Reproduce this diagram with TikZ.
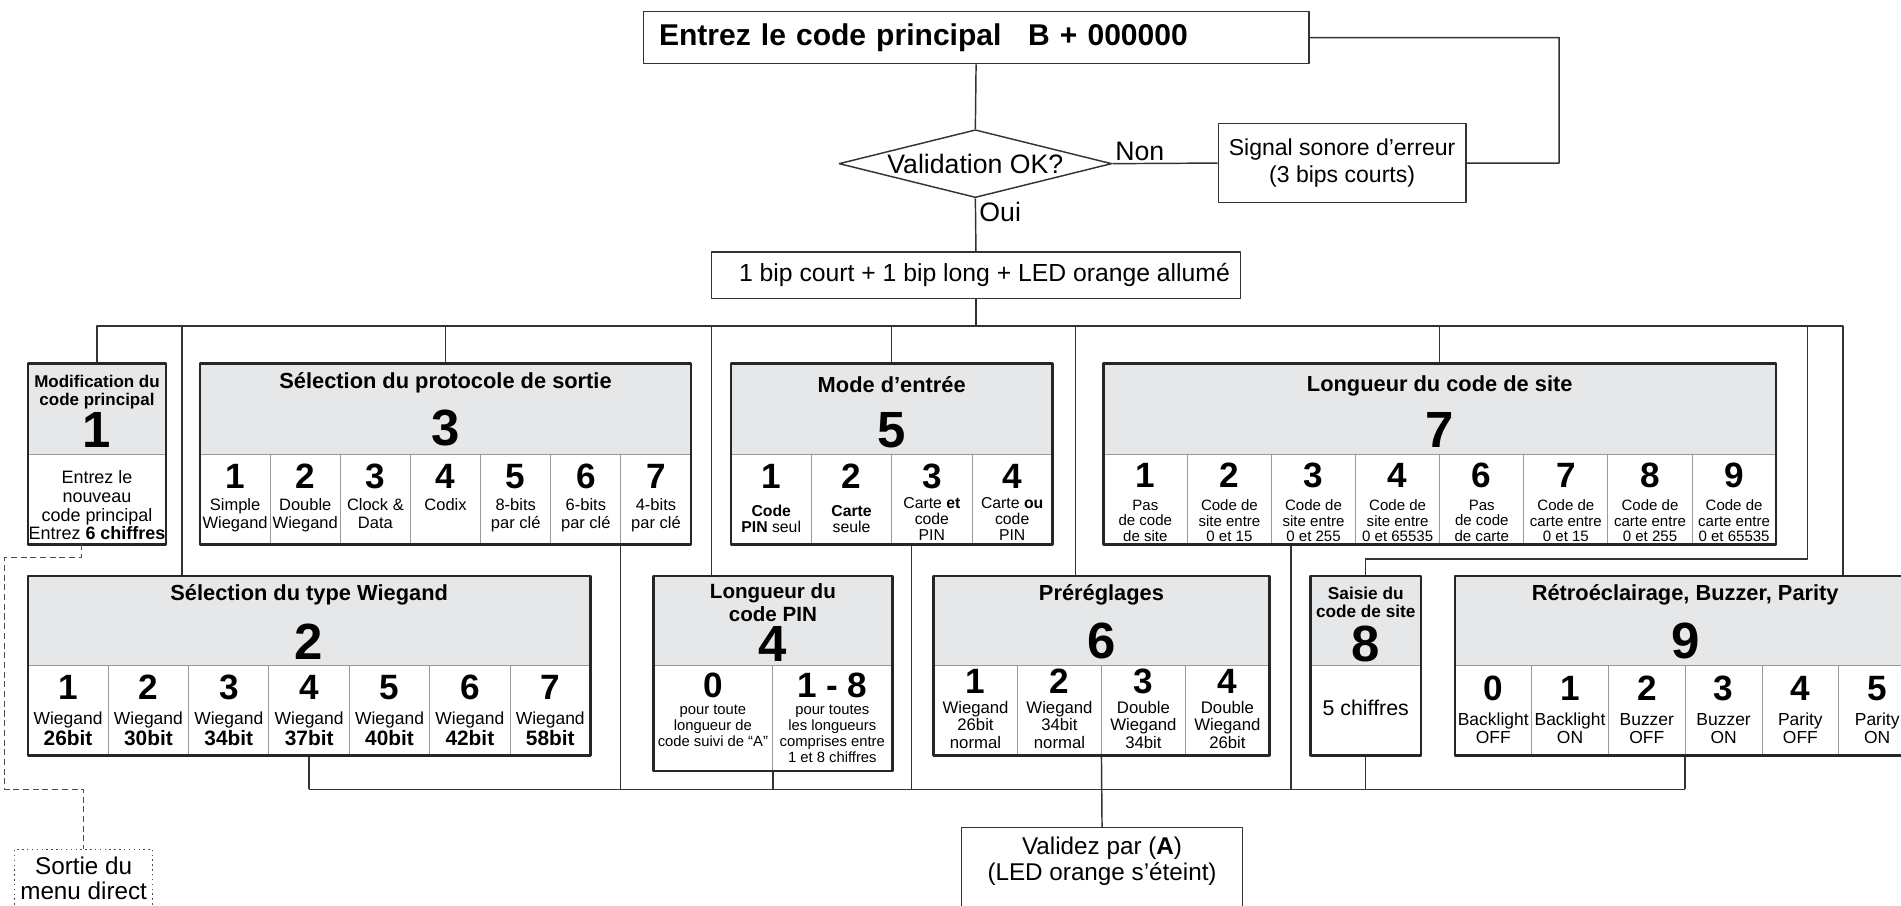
\documentclass[tikz,border=0pt]{standalone}
\usepackage{fontspec}
\setmainfont{Liberation Sans}
\usetikzlibrary{shapes.geometric,fit,positioning}
\definecolor{hdrgray}{RGB}{230,231,232}

\begin{document}
\begin{tikzpicture}[x=0.5pt,y=-0.5pt,line join=round,
  wire/.style={line width=0.6pt,draw=black!80},
  box/.style={draw=black!80,line width=0.6pt,inner sep=0pt},
  frame/.style={draw=black!85,line width=1.1pt,inner sep=0pt},
  hdr/.style={fill=hdrgray},
  sep/.style={draw=black!40,line width=0.4pt},
  ttl/.style={font=\fontsize{9}{10}\selectfont\bfseries,inner sep=0pt,align=center},
  bignum/.style={font=\fontsize{21}{21}\selectfont\bfseries,inner sep=0pt},
  cnum/.style={font=\fontsize{14.5}{14.5}\selectfont\bfseries,inner sep=0pt},
  ctxt/.style={inner sep=0pt,align=center},
  lbl/.style={font=\fontsize{11}{13}\selectfont,inner sep=1pt},
  dashline/.style={draw=black!70,line width=0.5pt,dash pattern=on 2.5pt off 1.5pt}]
  \useasboundingbox (0,0) rectangle (1568,747);
  \clip (0,0) rectangle (1568,747);

  % entree du code principal
  \node[box,anchor=north west,minimum width=274.5pt,minimum height=21.5pt,
        text width=261.5pt,inner xsep=6.5pt,align=left,
        font=\fontsize{12.4}{14}\selectfont\bfseries] (code) at (530,9)
        {Entrez le code principal\hspace{11pt}B + 000000};
  \node[diamond,draw=black!80,line width=0.6pt,aspect=4,inner sep=0pt,
        minimum width=112.5pt,minimum height=28pt,
        font=\fontsize{11}{13}\selectfont] (val) at (804.5,135) {Validation OK?};
  \node[box,minimum width=102pt,minimum height=32.5pt,align=center,
        font=\fontsize{9.5}{11.5}\selectfont] (err) at (1107,134.5)
        {Signal sonore d’erreur\\(3 bips courts)};
  \node[box,minimum width=218pt,minimum height=19pt,
        font=\fontsize{10.2}{12}\selectfont] (bip) at (805,227)
        {\hspace{7pt}1 bip court + 1 bip long + LED orange allumé};
  \node[lbl,anchor=south west] (non) at (val.east) {Non};
  \node[lbl,anchor=north west,inner sep=1.5pt] (oui) at (val.south) {Oui};

  % 1 : code principal
  \fill[hdr] (23,300) rectangle (137,375);
  \node[ttl,font=\fontsize{7}{7.6}\selectfont\bfseries] (t1) at (80,323.5) {Modification du\\code principal};
  \node[bignum] (m1) at (80,355) {1};
  \node[ctxt,font=\fontsize{7.4}{7.7}\selectfont] (e1) at (80,417)
        {Entrez le\\nouveau\\code principal\\Entrez \textbf{6 chiffres}};
  \draw[sep] (23,375) -- (137,375);
  \node[frame,fit={(23,300) (137,449)}] (b1) {};

  % 3 : protocole de sortie
  \fill[hdr] (165,300) rectangle (570,375);
  \node[ttl] (t3) at (367.5,316) {Sélection du protocole de sortie};
  \node[bignum] (m3) at (367.5,353) {3};
  \foreach \n/\txt [count=\i] in {1/{Simple\\Wiegand},2/{Double\\Wiegand},3/{Clock \&\\Data},4/{Codix},
                                 5/{8-bits\\par clé},6/{6-bits\\par clé},7/{4-bits\\par clé}}{
    \node[cnum] (b3n\i) at ({165+(\i-0.5)*405/7},393) {\n};
    \node[ctxt,anchor=north,font=\fontsize{6.8}{7.5}\selectfont] (b3t\i) at ({165+(\i-0.5)*405/7},411) {\txt};
  }
  \foreach \i in {1,...,6}
    \draw[sep] ({165+\i*405/7},375) -- ({165+\i*405/7},449);
  \draw[sep] (165,375) -- (570,375);
  \node[frame,fit={(165,300) (570,449)}] (b3) {};

  % 5 : mode d'entree
  \fill[hdr] (603,300) rectangle (868,375);
  \node[ttl] (t5) at (735.5,317) {Mode d’entrée};
  \node[bignum] (m5) at (735.5,355) {5};
  \foreach \n/\txt [count=\i] in {1/{\textbf{Code}\\\textbf{PIN} seul},2/{\textbf{Carte}\\seule},
                                 3/{Carte \textbf{et}\\code\\PIN},4/{Carte \textbf{ou}\\code\\PIN}}{
    \node[cnum] (b5n\i) at ({603+(\i-0.5)*265/4},393) {\n};
    \node[ctxt,font=\fontsize{6.5}{6.6}\selectfont] (b5t\i) at ({603+(\i-0.5)*265/4},428) {\txt};
  }
  \foreach \i in {1,...,3}
    \draw[sep] ({603+\i*265/4},375) -- ({603+\i*265/4},449);
  \draw[sep] (603,375) -- (868,375);
  \node[frame,fit={(603,300) (868,449)}] (b5) {};

  % 7 : longueur du code de site
  \fill[hdr] (910,300) rectangle (1465,375);
  \node[ttl] (t7) at (1187.5,318) {Longueur du code de site};
  \node[bignum] (m7) at (1187.5,355) {7};
  \foreach \n/\txt [count=\i] in {1/{Pas\\de code\\de site},2/{Code de\\site entre\\0 et 15},
                                 3/{Code de\\site entre\\0 et 255},4/{Code de\\site entre\\0 et 65535},
                                 6/{Pas\\de code\\de carte},7/{Code de\\carte entre\\0 et 15},
                                 8/{Code de\\carte entre\\0 et 255},9/{Code de\\carte entre\\0 et 65535}}{
    \node[cnum] (b7n\i) at ({910+(\i-0.5)*555/8},392) {\n};
    \node[ctxt,font=\fontsize{6.2}{6.4}\selectfont] (b7t\i) at ({910+(\i-0.5)*555/8},429.5) {\txt};
  }
  \foreach \i in {1,...,7}
    \draw[sep] ({910+\i*555/8},375) -- ({910+\i*555/8},449);
  \draw[sep] (910,375) -- (1465,375);
  \node[frame,fit={(910,300) (1465,449)}] (b7) {};

  % 2 : type Wiegand
  \fill[hdr] (23,475) rectangle (487,549);
  \node[ttl] (t2) at (255,491) {Sélection du type Wiegand};
  \node[bignum] (m2) at (255,529) {2};
  \foreach \n/\bits [count=\i] in {1/26bit,2/30bit,3/34bit,4/37bit,5/40bit,6/42bit,7/58bit}{
    \node[cnum] (b2n\i) at ({23+(\i-0.5)*464/7},567) {\n};
    \node[ctxt,font=\fontsize{7.2}{8.5}\selectfont] (b2t\i) at ({23+(\i-0.5)*464/7},601)
          {Wiegand\\{\fontsize{8.6}{8.5}\selectfont\bfseries \bits}};
  }
  \foreach \i in {1,...,6}
    \draw[sep] ({23+\i*464/7},549) -- ({23+\i*464/7},623);
  \draw[sep] (23,549) -- (487,549);
  \node[frame,fit={(23,475) (487,623)}] (b2) {};

  % 4 : longueur du code PIN
  \fill[hdr] (539,475) rectangle (736,549);
  \node[ttl,font=\fontsize{8.5}{9.5}\selectfont\bfseries] (t4) at (637.5,497) {Longueur du\\code PIN};
  \node[bignum] (m4) at (637.5,531) {4};
  \node[cnum] (b4n1) at (588,565) {0};
  \node[cnum] (b4n2) at (686.5,565) {1 - 8};
  \node[ctxt,anchor=north,font=\fontsize{6.1}{6.6}\selectfont] (b4t1) at (588,581)
        {pour toute\\longueur de\\code suivi de “A”};
  \node[ctxt,anchor=north,font=\fontsize{6.1}{6.6}\selectfont] (b4t2) at (686.5,581)
        {pour toutes\\les longueurs\\comprises entre\\1 et 8 chiffres};
  \draw[sep] (539,549) -- (736,549);
  \draw[sep] (637.5,549) -- (637.5,636);
  \node[frame,fit={(539,475) (736,636)}] (b4) {};

  % 6 : prereglages
  \fill[hdr] (770,475) rectangle (1047,549);
  \node[ttl] (t6) at (908.5,491) {Préréglages};
  \node[bignum] (m6) at (908.5,529) {6};
  \foreach \n/\txt [count=\i] in {1/{Wiegand\\26bit\\normal},2/{Wiegand\\34bit\\normal},
                                 3/{Double\\Wiegand\\34bit},4/{Double\\Wiegand\\26bit}}{
    \node[cnum] (b6n\i) at ({770+(\i-0.5)*277/4},562) {\n};
    \node[ctxt,font=\fontsize{6.9}{7.3}\selectfont] (b6t\i) at ({770+(\i-0.5)*277/4},598) {\txt};
  }
  \foreach \i in {1,...,3}
    \draw[sep] ({770+\i*277/4},549) -- ({770+\i*277/4},623);
  \draw[sep] (770,549) -- (1047,549);
  \node[frame,fit={(770,475) (1047,623)}] (b6) {};

  % 8 : saisie du code de site
  \fill[hdr] (1081,475) rectangle (1172,549);
  \node[ttl,font=\fontsize{7.1}{7.6}\selectfont\bfseries] (t8) at (1126.5,497) {Saisie du\\code de site};
  \node[bignum] (m8) at (1126.5,531) {8};
  \node[ctxt,font=\fontsize{8.8}{10}\selectfont] (b8t1) at (1126.5,584) {5 chiffres};
  \draw[sep] (1081,549) -- (1172,549);
  \node[frame,fit={(1081,475) (1172,623)}] (b8) {};

  % 9 : retroeclairage, buzzer, parity
  \fill[hdr] (1200,475) rectangle (1580,549);
  \node[ttl] (t9) at (1390,491) {Rétroéclairage, Buzzer, Parity};
  \node[bignum] (m9) at (1390,529) {9};
  \foreach \n/\txt [count=\i] in {0/{Backlight\\OFF},1/{Backlight\\ON},2/{Buzzer\\OFF},
                                 3/{Buzzer\\ON},4/{Parity\\OFF},5/{Parity\\ON}}{
    \node[cnum] (b9n\i) at ({1200+(\i-0.5)*380/6},568) {\n};
    \node[ctxt,font=\fontsize{7.2}{7.5}\selectfont] (b9t\i) at ({1200+(\i-0.5)*380/6},601) {\txt};
  }
  \foreach \i in {1,...,5}
    \draw[sep] ({1200+\i*380/6},549) -- ({1200+\i*380/6},623);
  \draw[sep] (1200,549) -- (1580,549);
  \node[frame,fit={(1200,475) (1580,623)}] (b9) {};

  % validation finale et sortie
  \node[box,anchor=north,minimum width=116pt,inner ysep=4pt,text depth=14pt,align=center,
        font=\fontsize{10}{10.5}\selectfont] (ok) at (909,682)
        {Validez par (\textbf{A})\\(LED orange s'éteint)};
  \node[box,anchor=north,minimum width=57pt,inner ysep=3pt,text depth=12pt,align=center,
        draw=black!70,dash pattern=on 0.6pt off 1.4pt,
        font=\fontsize{10}{10.5}\selectfont] (sortie) at (69,700) {Sortie du\\menu direct};

  % liaisons du haut
  \coordinate (loop) at (1286,31);
  \coordinate (bus1) at (0,269);
  \coordinate (j2) at (150,269);
  \coordinate (j4) at (587,269);
  \coordinate (j6) at (887,269);
  \coordinate (j8) at (1491,269);
  \coordinate (j9) at (1520,269);
  \draw[wire] (code.south) -- (val.north);
  \draw[wire] (val.east) -- (err.west);
  \draw[wire] (err.east) -| (loop) -- (code.east);
  \draw[wire] (val.south) -- (bip.north);
  \draw[wire] (bip.south) -- (bip.south |- bus1);
  \draw[wire] (b1.north) -- (b1.north |- bus1) -- (j9) -- (j9 |- b9.north);
  \draw[wire] (j2) -- (j2 |- b2.north);
  \draw[wire] (b3.north |- bus1) -- (b3.north);
  \draw[wire] (j4) -- (j4 |- b4.north);
  \draw[wire] (b5.north |- bus1) -- (b5.north);
  \draw[wire] (j6) -- (j6 |- b6.north);
  \draw[wire] (b7.north |- bus1) -- (b7.north);
  \draw[wire] (j8) |- ([yshift=6.5pt]b8.north) -- (b8.north);

  % liaisons du bas
  \coordinate (bus2) at (0,651);
  \coordinate (k3) at (512,651);
  \coordinate (k5) at (752,651);
  \coordinate (k7) at (1065,651);
  \draw[wire] (b2.south |- bus2) -- (b9.south |- bus2);
  \draw[wire] (b2.south) -- (b2.south |- bus2);
  \draw[wire] (k3 |- b3.south) -- (k3);
  \draw[wire] (b4.south) -- (b4.south |- bus2);
  \draw[wire] (k5 |- b5.south) -- (k5);
  \draw[wire] (b6.south) -- (ok.north);
  \draw[wire] (k7 |- b7.south) -- (k7);
  \draw[wire] (b8.south) -- (b8.south |- bus2);
  \draw[wire] (b9.south) -- (b9.south |- bus2);

  % sortie directe
  \coordinate (d0) at (67,449);
  \coordinate (d1) at (4,460);
  \coordinate (d2) at (4,651);
  \draw[dashline] (d0) |- (d1) |- (sortie.north |- d2) -- (sortie.north);
\end{tikzpicture}
\end{document}
